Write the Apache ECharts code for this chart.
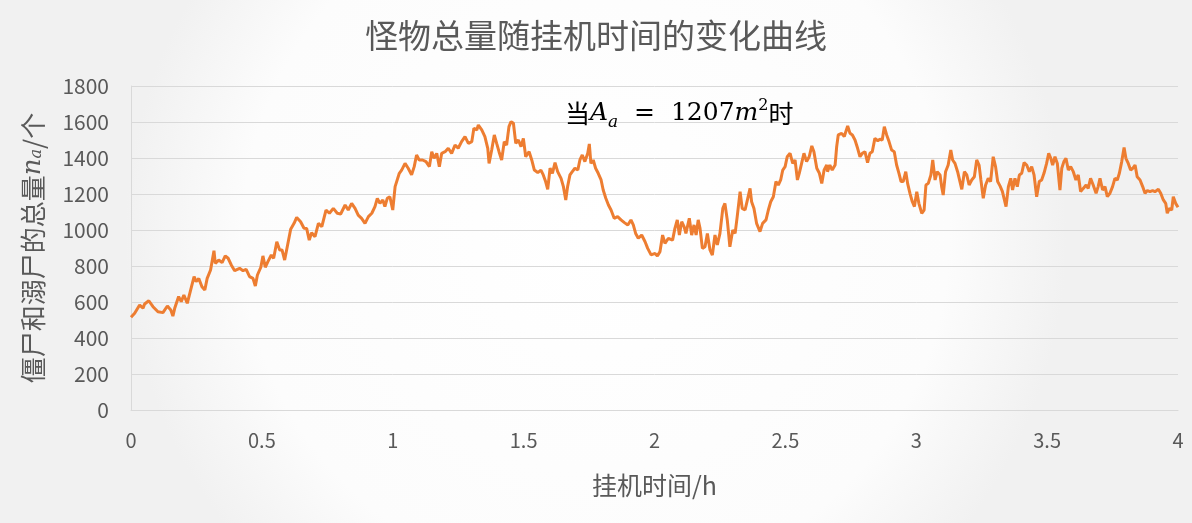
<!DOCTYPE html>
<html>
<head>
<meta charset="utf-8">
<script src="https://cdn.jsdelivr.net/npm/echarts@6/dist/echarts.min.js"></script>
<style>html,body{margin:0;padding:0;background:#fff}#c{width:1192px;height:523px}</style>
</head>
<body>
<div id="c"></div>
<script>
// time in hours
var timeH = [0.000,0.004,0.014,0.033,0.046,0.052,0.068,0.084,0.103,0.122,0.139,0.152,0.160,0.167,0.182,0.192,0.202,0.215,0.228,0.241,0.249,0.259,0.271,0.282,0.291,0.304,0.317,0.322,0.335,0.348,0.360,0.371,0.383,0.396,0.415,0.428,0.440,0.453,0.466,0.475,0.483,0.496,0.504,0.513,0.523,0.536,0.545,0.557,0.568,0.577,0.587,0.597,0.610,0.623,0.633,0.648,0.661,0.671,
0.681,0.690,0.703,0.716,0.729,0.745,0.758,0.773,0.788,0.801,0.818,0.830,0.843,0.856,0.868,0.881,0.894,0.907,0.920,0.932,0.941,0.951,0.962,0.970,0.979,0.989,1.000,1.009,1.015,1.025,1.034,1.047,1.059,1.072,1.082,1.091,1.101,1.114,1.127,1.140,1.149,1.158,1.168,1.178,1.187,1.200,1.212,1.225,1.238,1.250,1.263,1.276,1.289,1.302,1.310,1.321,1.327,1.340,
1.352,1.363,1.368,1.378,1.388,1.397,1.406,1.416,1.426,1.435,1.444,1.452,1.461,1.470,1.480,1.490,1.499,1.508,1.521,1.531,1.541,1.554,1.566,1.575,1.584,1.592,1.601,1.610,1.620,1.630,1.643,1.652,1.661,1.668,1.677,1.686,1.696,1.707,1.715,1.724,1.734,1.745,1.751,1.757,1.766,1.775,1.785,1.796,1.804,1.814,1.824,1.834,1.846,1.859,1.872,1.885,1.898,1.910,1.919,1.928,1.938,1.951,1.964,1.974,1.987,1.993,2.002,2.011,2.021,
2.031,2.040,2.053,2.069,2.078,2.087,2.095,2.104,2.113,2.120,2.133,2.142,2.151,2.159,2.167,2.174,2.183,2.193,2.202,2.212,2.221,2.231,2.240,2.250,2.261,2.269,2.278,2.288,2.299,2.308,2.316,2.327,2.335,2.346,2.355,2.365,2.371,2.380,2.390,2.403,2.413,2.426,2.435,2.444,2.454,2.464,2.473,2.482,2.490,2.499,2.507,2.518,2.528,2.537,2.546,2.553,2.562,2.571,2.581,2.591,2.601,2.609,2.620,2.630,2.639,2.648,2.658,2.661,2.670,2.679,2.690,
2.696,2.702,2.715,2.725,2.738,2.747,2.756,2.766,2.776,2.785,2.794,2.804,2.814,2.823,2.832,2.842,2.853,2.861,2.870,2.878,2.887,2.896,2.906,2.916,2.925,2.934,2.942,2.950,2.960,2.967,2.976,2.985,2.993,3.002,3.010,3.021,3.030,3.037,3.046,3.056,3.063,3.072,3.080,3.091,3.097,3.103,3.112,3.122,3.132,3.139,3.148,3.158,3.167,3.174,3.184,3.193,3.202,3.212,3.222,3.231,3.240,3.247,3.256,3.265,3.275,3.284,3.294,3.303,3.311,3.320,3.329,3.343,
3.352,3.361,3.368,3.377,3.386,3.394,3.403,3.412,3.422,3.432,3.441,3.450,3.460,3.470,3.479,3.488,3.498,3.506,3.514,3.521,3.530,3.539,3.549,3.556,3.564,3.572,3.581,3.590,3.600,3.610,3.619,3.628,3.638,3.649,3.657,3.666,3.676,3.687,3.695,3.702,3.712,3.721,3.730,3.740,3.750,3.759,3.768,3.776,3.785,3.794,3.801,3.810,3.819,3.827,3.836,3.844,3.855,3.865,3.874,3.883,3.893,3.903,3.912,3.925,3.934,3.944,3.953,3.959,3.967,3.976,3.982,3.991,4.000];
// total number of zombies + drowned
var monsters = [515,518,537,583,566,589,607,574,546,541,578,556,522,565,630,602,639,593,667,741,713,731,685,667,731,778,885,815,833,819,856,843,806,774,787,774,781,741,731,689,750,793,856,793,824,861,843,935,889,889,833,907,1004,1037,1070,1046,1010,1009,
944,985,963,1037,1019,1111,1093,1120,1093,1089,1139,1111,1148,1120,1083,1065,1037,1074,1093,1130,1176,1148,1167,1130,1176,1185,1111,1241,1269,1315,1333,1370,1343,1306,1352,1417,1389,1389,1380,1352,1435,1398,1426,1352,1426,1435,1454,1426,1472,1454,1491,1519,1481,1491,1565,1556,1583,1556,
1519,1454,1370,1444,1528,1481,1435,1389,1491,1472,1574,1602,1593,1481,1500,1463,1509,1407,1435,1389,1333,1319,1333,1306,1269,1226,1343,1315,1374,1324,1287,1241,1167,1241,1306,1324,1343,1333,1389,1417,1380,1426,1478,1370,1389,1343,1315,1278,1222,1176,1139,1111,1065,1074,1056,1041,1028,1056,1028,981,954,972,935,898,862,852,870,856,880,
972,926,954,944,1009,1056,972,1046,1019,981,1065,972,1028,972,1056,1009,898,907,981,889,861,972,917,981,1120,1148,1056,907,1000,981,1074,1213,1120,1111,1167,1231,1157,1120,1037,991,1037,1056,1111,1157,1185,1269,1250,1278,1333,1352,1407,1426,1370,1389,1278,1315,1370,1426,1380,1407,1467,1435,1343,1315,1259,1333,1361,1324,1361,1333,1361,
1463,1528,1537,1519,1578,1537,1528,1500,1454,1407,1426,1435,1374,1426,1435,1509,1496,1504,1500,1574,1528,1491,1444,1435,1361,1315,1269,1269,1324,1259,1204,1157,1130,1213,1148,1093,1111,1250,1259,1306,1389,1278,1324,1306,1241,1194,1324,1361,1444,1389,1370,1324,1269,1226,1324,1306,1250,1278,1296,1389,1361,1278,1176,1250,1287,1269,1407,1352,1269,1245,1215,1130,
1241,1287,1222,1287,1241,1306,1315,1374,1361,1324,1352,1306,1185,1269,1278,1315,1370,1426,1398,1361,1407,1370,1222,1343,1380,1398,1333,1352,1324,1278,1306,1213,1231,1250,1231,1287,1250,1204,1241,1287,1222,1241,1185,1204,1241,1287,1278,1315,1380,1459,1398,1370,1333,1343,1361,1296,1278,1241,1204,1219,1213,1219,1213,1226,1204,1167,1148,1093,1120,1111,1185,1148,1126];
var xTicks = {min: 0, max: 4, interval: 0.5};
var yTicks = {min: 0, max: 1800, interval: 200};
var chartTitle = '怪物总量随挂机时间的变化曲线';
var xName = '挂机时间/h';

var seriesData = timeH.map(function (t, i) { return [t, monsters[i]]; });

var chart = echarts.init(document.getElementById('c'));
var gray = '#595959';
var cjk = '"Noto Sans CJK SC", "Noto Sans", sans-serif';
var serif = '"DejaVu Serif", "Liberation Serif", serif';
function r(o) { o.fontWeight = 'normal'; o.color = o.color || '#000'; return o; }
chart.setOption({
  animation: false,
  backgroundColor: {
    type: 'radial', x: 0.5, y: 0.45, r: 0.9,
    colorStops: [{offset: 0, color: '#ffffff'}, {offset: 0.75, color: '#fcfcfc'}, {offset: 1, color: '#f1f1f1'}]
  },
  title: [{
    text: chartTitle,
    left: 'center',
    top: 14,
    textStyle: {color: gray, fontSize: 33, fontWeight: 'normal', fontFamily: cjk}
  }, {
    text: '{c|当}{i|A}{sub|a}{m|  =  1207}{i|m}{sup|2}{c|时}',
    left: 560,
    top: 87,
    textStyle: {
      fontWeight: 'normal',
      rich: {
        c: r({fontFamily: cjk, fontSize: 25, lineHeight: 34, verticalAlign: 'bottom'}),
        i: r({fontFamily: serif, fontStyle: 'italic', fontSize: 25, lineHeight: 34, verticalAlign: 'bottom'}),
        m: r({fontFamily: serif, fontSize: 25, lineHeight: 34, verticalAlign: 'bottom'}),
        sub: r({fontFamily: serif, fontStyle: 'italic', fontSize: 17, lineHeight: 14, verticalAlign: 'bottom', padding: [0, 0, -5, 0]}),
        sup: r({fontFamily: serif, fontSize: 16, lineHeight: 14, verticalAlign: 'top', padding: [6, 0, 0, 0]})
      }
    }
  }],
  grid: {left: 131, right: 14, top: 86, bottom: 113, containLabel: false},
  xAxis: {
    type: 'value',
    min: xTicks.min, max: xTicks.max, interval: xTicks.interval,
    name: xName,
    nameLocation: 'middle',
    nameGap: 63,
    nameTextStyle: {color: gray, fontSize: 25, fontFamily: cjk},
    axisLine: {show: true, lineStyle: {color: '#d9d9d9', width: 1}},
    axisTick: {show: false},
    splitLine: {show: false},
    axisLabel: {color: gray, fontSize: 20, margin: 20, fontFamily: cjk, formatter: function (v) { return String(v); }}
  },
  yAxis: {
    type: 'value',
    min: yTicks.min, max: yTicks.max, interval: yTicks.interval,
    name: '僵尸和溺尸的总量{n|n}{s|a}/个',
    nameLocation: 'middle',
    nameGap: 85,
    nameTextStyle: {
      color: gray, fontSize: 26, fontFamily: cjk,
      rich: {
        n: {fontFamily: serif, fontStyle: 'italic', fontSize: 26, color: gray},
        s: {fontFamily: serif, fontStyle: 'italic', fontSize: 16, color: gray, padding: [0, 0, -8, 0]}
      }
    },
    axisLine: {show: true, lineStyle: {color: '#d9d9d9', width: 1}},
    axisTick: {show: false},
    splitLine: {show: true, lineStyle: {color: '#d9d9d9', width: 1}},
    axisLabel: {color: gray, fontSize: 21, margin: 22, fontFamily: cjk, formatter: function (v) { return String(v); }}
  },
  series: [{
    type: 'line',
    data: seriesData,
    showSymbol: false,
    symbol: 'none',
    lineStyle: {color: '#ED7D31', width: 3},
    itemStyle: {color: '#ED7D31'}
  }]
});
</script>
</body>
</html>
